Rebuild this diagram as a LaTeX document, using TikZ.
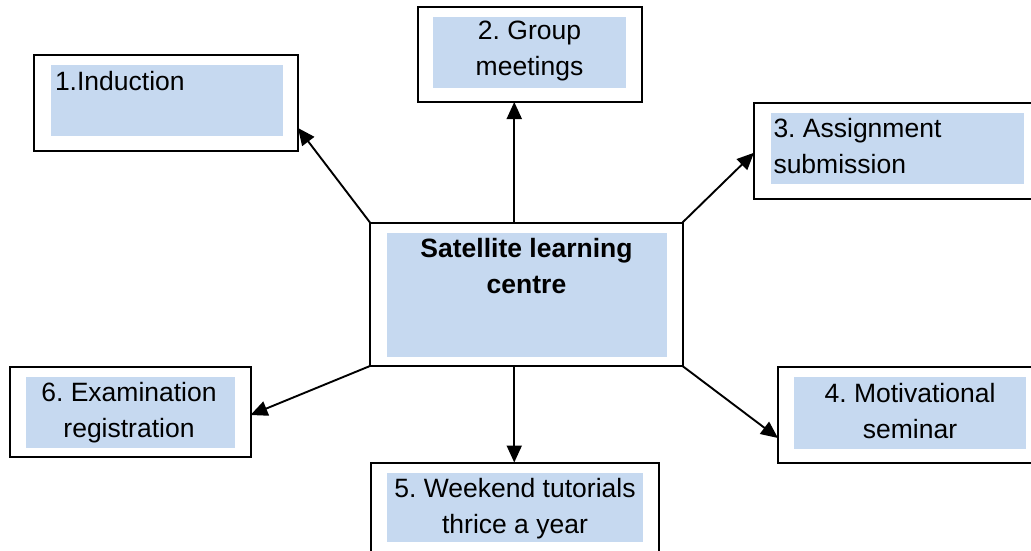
\documentclass[tikz,border=0pt]{standalone}
\usepackage{fontspec}
\setmainfont{Liberation Sans}
\usetikzlibrary{arrows.meta,fit,calc}
\definecolor{blu}{RGB}{198,217,240}
\frenchspacing
\begin{document}
\begin{tikzpicture}[x=1pt,y=-1pt,
  frame/.style={draw=black,line width=2pt,inner sep=0pt,outer sep=0pt},
  shadebox/.style={fill=blu,draw=none,inner sep=0pt,outer sep=0pt},
  lbl/.style={inner sep=0pt,outer sep=0pt,font=\fontsize{26.5}{36}\selectfont},
  arr/.style={line width=1.9pt,-{Triangle[length=17pt,width=15pt]}}]
\useasboundingbox (0,0) rectangle (1031,550);
\clip (0,0) rectangle (1031,550);
% outer frames
\node[frame,fit={(370,222.5) (682.5,366)}] (c) {};
\node[frame,fit={(33.5,55) (298,151)}] (b1) {};
\node[frame,fit={(418,7) (642,102)}] (b2) {};
\node[frame,fit={(754,103) (1045,198.5)}] (b3) {};
\node[frame,fit={(778,366.5) (1045,462.5)}] (b4) {};
\node[frame,fit={(370.5,462.5) (658.5,565)}] (b5) {};
\node[frame,fit={(9.5,367) (250.5,457)}] (b6) {};
% blue fills
\node[shadebox,fit={(386.7,232.7) (666.7,356.7)}] (cf) {};
\node[shadebox,fit={(51,65) (283,135.5)}] (f1) {};
\node[shadebox,fit={(433,17) (626,88)}] (f2) {};
\node[shadebox,fit={(771,113) (1024,184)}] (f3) {};
\node[shadebox,fit={(794,377) (1025.5,448.5)}] (f4) {};
\node[shadebox,fit={(387,473) (642.7,541.7)}] (f5) {};
\node[shadebox,fit={(26,377) (234.5,447.5)}] (f6) {};
% texts (anchor=base is the baseline of the last line)
\node[lbl,anchor=base,align=center,font=\fontsize{26.5}{36}\selectfont\bfseries] (tc) at (526.5,293) {Satellite learning\\centre};
\node[lbl,anchor=base west] (t1) at (55,90) {1.Induction};
\node[lbl,anchor=base,align=center] (t2) at (529.5,75.5) {2. Group\\meetings};
\node[lbl,anchor=base west,align=left] (t3) at (773.5,173.5) {3. Assignment\\submission};
\node[lbl,anchor=base,align=center] (t4) at (910,438) {4. Motivational\\seminar};
\node[lbl,anchor=base,align=center] (t5) at (515,533) {5. Weekend tutorials\\thrice a year};
\node[lbl,anchor=base,align=center] (t6) at (129,437) {6. Examination\\registration};
% arrows
\draw[arr] (c.north west) -- ([yshift=-25pt]b1.east);
\draw[arr] ([xshift=-12pt]c.north) coordinate (a2) -- (a2 |- b2.south);
\draw[arr] (c.north east) -- ([yshift=-2pt]b3.west);
\draw[arr] (c.south east) -- ([yshift=-23.5pt]b4.west);
\draw[arr] ([xshift=-12pt]c.south) coordinate (a5) -- (a5 |- b5.north);
\draw[arr] (c.south west) -- ([yshift=-3pt]b6.east);
\end{tikzpicture}
\end{document}
